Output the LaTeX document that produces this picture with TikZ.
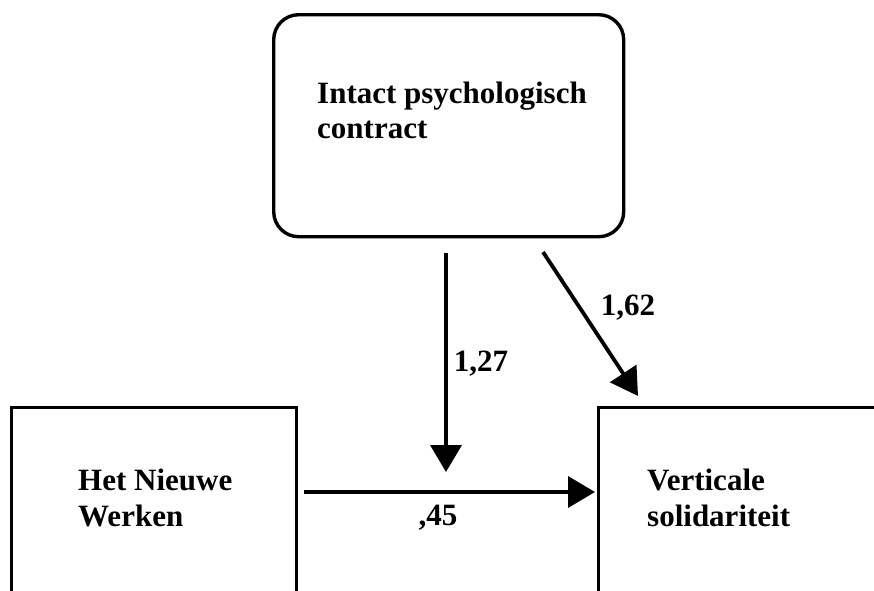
\documentclass[tikz,border=0pt]{standalone}
\usepackage{fontspec}
\setmainfont{Liberation Serif}
\usetikzlibrary{arrows.meta}
\begin{document}
\begin{tikzpicture}[x=1pt,y=-1pt,
  box/.style={draw=black, line width=3.4pt, fill=white, inner sep=0pt},
  lbl/.style={font=\fontsize{31}{35}\selectfont\bfseries, inner sep=0pt, anchor=base west},
  num/.style={font=\fontsize{31}{35}\selectfont\bfseries, inner sep=0pt},
  conn/.style={line width=3.8pt, -{Triangle[length=27pt,width=31pt]}}]
\useasboundingbox (0,0) rectangle (874,590);
\clip (0,0) rectangle (874,590);
% boxes
\node[box, rounded corners=25pt, minimum width=350pt, minimum height=222pt, anchor=north west] (ipc) at (272,13) {};
\node[box, minimum width=285pt, minimum height=240pt, anchor=north west] (hnw) at (10,406) {};
\node[box, minimum width=320pt, minimum height=240pt, anchor=north west] (vs) at (597,406) {};
% texts
\node[lbl] (ipct1) at (317,103) {Intact psychologisch};
\node[lbl] (ipct2) at (317,138) {contract};
\node[lbl] (hnwt1) at (78,490) {Het Nieuwe};
\node[lbl] (hnwt2) at (78,526) {Werken};
\node[lbl] (vst1) at (647,490) {Verticale};
\node[lbl] (vst2) at (647,526) {solidariteit};
% connector end points
\coordinate (vstart) at (446,253);
\coordinate (vend) at (446,472);
\coordinate (hstart) at (304,492);
\coordinate (hend) at (595,492);
\coordinate (dstart) at (543,252);
\coordinate (dend) at (638,396);
\draw[conn] (vstart) -- (vend);
\draw[conn] (hstart) -- (hend);
\draw[conn] (dstart) -- (dend);
% numbers
\node[num] (n162) at (628,308) {1,62};
\node[num] (n127) at (481,364) {1,27};
\node[num] (n45) at (438,518) {,45};
\end{tikzpicture}
\end{document}
